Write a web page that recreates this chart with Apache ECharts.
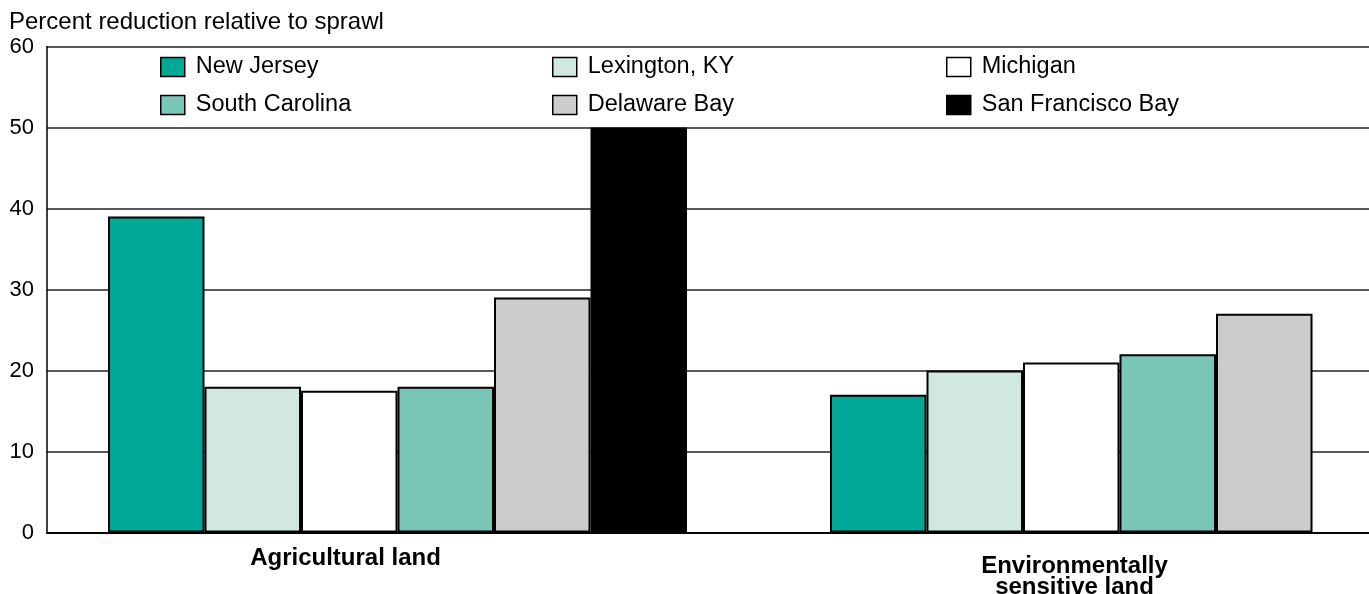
<!DOCTYPE html>
<html>
<head>
<meta charset="utf-8">
<script src="https://cdn.jsdelivr.net/npm/echarts@6/dist/echarts.min.js"></script>
<style>
html,body{margin:0;padding:0;background:#fff;}
#chart{width:1369px;height:594px;}
</style>
</head>
<body>
<div id="chart"></div>
<script>
const categories = ['Agricultural land', 'Environmentally\nsensitive land'];
const seriesNames = ['New Jersey', 'Lexington, KY', 'Michigan', 'South Carolina', 'Delaware Bay', 'San Francisco Bay'];
const newJersey = [39, 17];
const lexington = [18, 20];
const michigan = [17.5, 21];
const southCarolina = [18, 22];
const delawareBay = [29, 27];
const sanFrancisco = [50, null];
const seriesColors = ['#00A898', '#D0E8E0', '#FFFFFF', '#7AC6B6', '#CCCCCC', '#000000'];
const yTicks = [0, 10, 20, 30, 40, 50, 60];
const yTitle = 'Percent reduction relative to sprawl';

const values = [newJersey, lexington, michigan, southCarolina, delawareBay, sanFrancisco];
const FONT = '"Liberation Sans", Arial, Helvetica, sans-serif';

const chart = echarts.init(document.getElementById('chart'), null, {renderer: 'canvas'});

const labelStyles = [
  {padding: [0, 104, 0, 0], lineHeight: 24},
  {padding: [9, 90, 0, 0], lineHeight: 21}
];

const legendCols = [[0, 3], [1, 4], [2, 5]];
const legendLeft = [160, 552, 946];

const option = {
  animation: false,
  backgroundColor: '#fff',
  title: {
    text: yTitle, left: 9, top: 10, padding: 0,
    textStyle: {fontFamily: FONT, fontSize: 24, fontWeight: 'normal', color: '#000'}
  },
  legend: legendCols.map((idx, c) => ({
    orient: 'vertical', left: legendLeft[c], top: 55, padding: 0,
    itemWidth: 24, itemHeight: 19, itemGap: 14, icon: 'rect',
    selectedMode: false,
    data: idx.map(i => seriesNames[i]),
    itemStyle: {borderColor: '#000', borderWidth: 1.5},
    textStyle: {fontFamily: FONT, fontSize: 23.5, color: '#000', lineHeight: 19, padding: [0, 0, 0, 6]}
  })),
  grid: [
    {left: 47, right: 0, top: 46.5, bottom: 61.5, containLabel: false, outerBoundsMode: 'none'},
    {left: 36.5, width: 1444, top: 46.5, bottom: 61.5, containLabel: false, outerBoundsMode: 'none'}
  ],
  xAxis: [
    {
      type: 'category', gridIndex: 0, data: categories,
      axisLine: {show: true, lineStyle: {color: '#000', width: 2}},
      axisTick: {show: false}, axisLabel: {show: false}, splitLine: {show: false}
    },
    {
      type: 'category', gridIndex: 1,
      data: categories.map((c, i) => ({value: c, textStyle: labelStyles[i]})),
      axisLine: {show: false}, axisTick: {show: false}, splitLine: {show: false},
      axisLabel: {
        show: true, interval: 0, margin: 14,
        fontFamily: FONT, fontSize: 24, fontWeight: 'bold', color: '#000', align: 'center'
      }
    }
  ],
  yAxis: [
    {
      type: 'value', gridIndex: 0, min: yTicks[0], max: yTicks[yTicks.length - 1], interval: 10,
      axisLine: {show: true, lineStyle: {color: '#000', width: 1.5}},
      axisTick: {show: false},
      axisLabel: {margin: 13, fontFamily: FONT, fontSize: 22, color: '#000'},
      splitLine: {show: true, lineStyle: {color: '#222', width: 1.5}}
    },
    {
      type: 'value', gridIndex: 1, min: yTicks[0], max: yTicks[yTicks.length - 1], interval: 10,
      show: false, splitLine: {show: false}
    }
  ],
  series: seriesNames.map((name, i) => ({
    name: name, type: 'bar', xAxisIndex: 1, yAxisIndex: 1,
    data: values[i], barWidth: 96.5, barGap: '0%',
    itemStyle: {color: seriesColors[i], borderColor: '#000', borderWidth: 2},
    emphasis: {disabled: true}
  }))
};
chart.setOption(option);
</script>
</body>
</html>
